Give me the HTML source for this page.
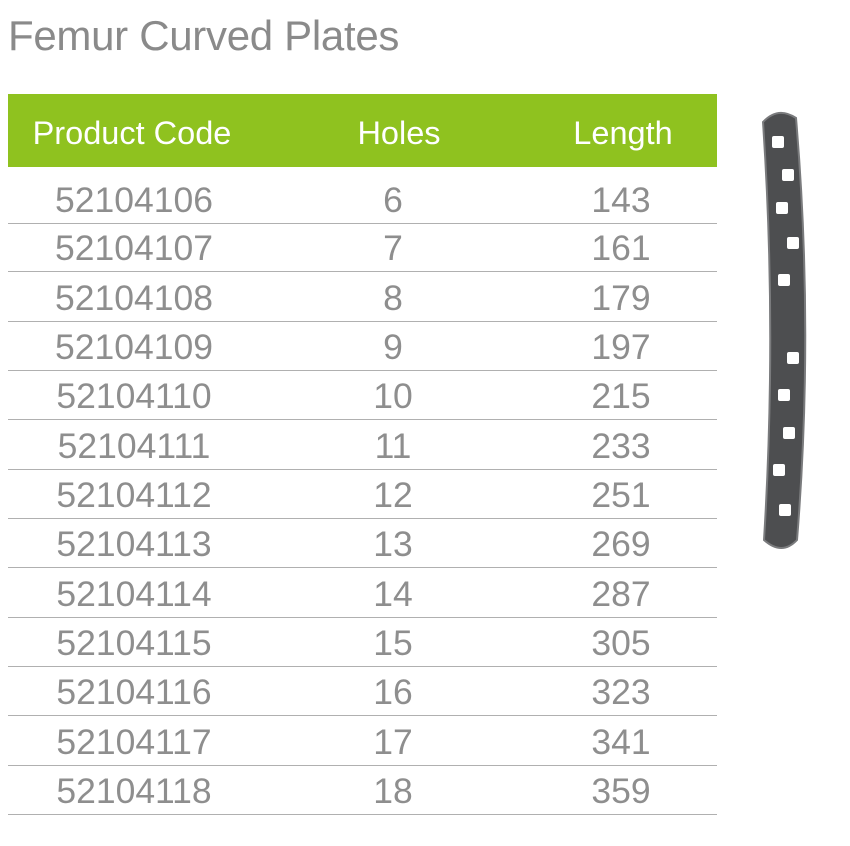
<!DOCTYPE html>
<html><head><meta charset="utf-8"><style>
body{margin:0;width:850px;height:846px;background:#fff;position:relative;overflow:hidden;font-family:"Liberation Sans",sans-serif}
#title{position:absolute;left:8px;top:13px;font-size:42px;color:#8a8a8a;line-height:46px;letter-spacing:-0.3px}
#hdr{position:absolute;left:8px;top:94px;width:709px;height:73px;background:#8fc21f}
.h{position:absolute;top:0;line-height:78px;font-size:32.5px;color:#fff;transform:translateX(-50%);white-space:nowrap}
.row{position:absolute;left:8px;width:709px;height:49.33px;border-bottom:1px solid #b0b0b0;box-sizing:border-box}
.c{position:absolute;bottom:3px;font-size:35.5px;color:#8e8e8e;transform:translateX(-50%);line-height:40px}
</style></head><body>
<div id="title">Femur Curved Plates</div>
<div id="hdr">
<div class="h" style="left:124px">Product Code</div>
<div class="h" style="left:391px">Holes</div>
<div class="h" style="left:615px">Length</div>
</div>
<div id="rows"></div>
<svg style="position:absolute;left:740px;top:100px" width="80" height="460">
<path d="M23,22 Q38,6 56,18 Q74,230 57,440 Q42,456 24,440 Q37,230 23,22Z" fill="#4d4e50" stroke="#7a7b7d" stroke-width="2"/>
<g fill="#fff">
<rect x="32" y="36" width="12" height="12" rx="2"/><rect x="42" y="69" width="12" height="12" rx="2"/>
<rect x="36" y="102" width="12" height="12" rx="2"/><rect x="47" y="137" width="12" height="12" rx="2"/>
<rect x="38" y="174" width="12" height="12" rx="2"/><rect x="47" y="252" width="12" height="12" rx="2"/>
<rect x="38" y="289" width="12" height="12" rx="2"/><rect x="43" y="327" width="12" height="12" rx="2"/>
<rect x="33" y="364" width="12" height="12" rx="2"/><rect x="39" y="404" width="12" height="12" rx="2"/>
</g></svg>
<script>
const codes=["52104106","52104107","52104108","52104109","52104110","52104111","52104112","52104113","52104114","52104115","52104116","52104117","52104118"];
const holes=["6","7","8","9","10","11","12","13","14","15","16","17","18"];
const lengths=["143","161","179","197","215","233","251","269","287","305","323","341","359"];
const rows=document.getElementById('rows');
codes.forEach((c,i)=>{
 const r=document.createElement('div');r.className='row';
 
 
 const top=i===0?167:223+49.33*(i-1);
 const h=i===0?57:49.33;
 r.style.top=top+'px';r.style.height=h+'px';
 [[c,126],[holes[i],385],[lengths[i],613]].forEach(([t,x],j)=>{
  const d=document.createElement('div');d.className='c';d.style.left=x+'px';d.textContent=t;
  
  
  r.appendChild(d);
 });
 rows.appendChild(r);
});
</script>
</body></html>
